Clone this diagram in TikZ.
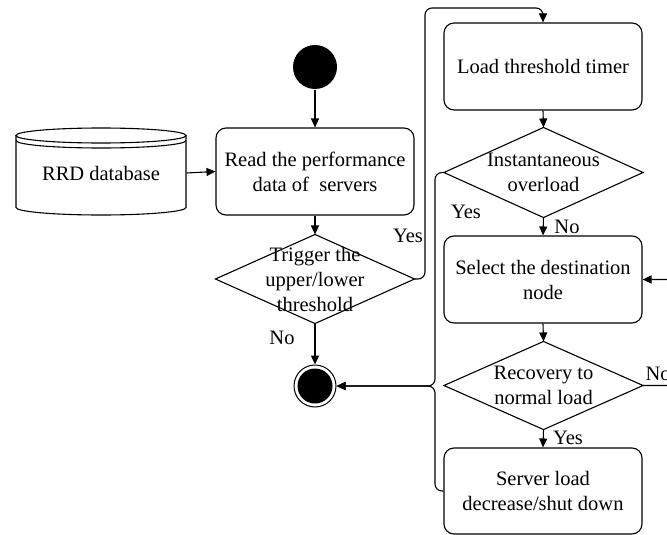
\documentclass[tikz,border=0pt]{standalone}
\usepackage{fontspec}
\setmainfont{Liberation Serif}
\usetikzlibrary{arrows.meta}
\newcommand\figfont{\fontsize{20.5}{25}\selectfont}
\begin{document}
\begin{tikzpicture}[x=1pt,y=-1pt, line width=1.1pt,
  box/.style={draw, rounded corners=10pt, minimum width=198pt, minimum height=87pt, inner sep=0pt, align=center, font=\figfont},
  dia/.style={minimum width=198pt, minimum height=88pt, inner sep=0pt, align=center, font=\figfont},
  arr/.style={-{Triangle[length=9pt,width=8pt]}},
  lbl/.style={font=\figfont, inner sep=0pt},
  conn/.style={rounded corners=7pt}
]
\useasboundingbox (0,0) rectangle (667,535);

% start / stop
\node[circle, fill, minimum size=44pt, inner sep=0pt] (start) at (315,67) {};
\node[circle, draw, minimum size=42pt, inner sep=0pt, line width=1pt] (stop) at (315,386) {};
\node[circle, fill, minimum size=35pt, inner sep=0pt] (stopin) at (315,386) {};

% database
\node[minimum width=170pt, minimum height=87pt, inner sep=0pt, font=\figfont] (rrd) at (101,173) {RRD database};
\draw (101,135.5) ellipse [x radius=85pt, y radius=7.5pt];
\draw (16,140.5) arc[start angle=180, end angle=360, x radius=85pt, y radius=7.5pt];
\draw (16,135.5) -- (16,207.5) arc[start angle=180, end angle=360, x radius=85pt, y radius=7.5pt] -- (186,135.5);

% boxes
\node[box] (read) at (315,171.5) {Read the performance\\data of~ servers};
\node[box] (load) at (543,66.5) {Load threshold timer};
\node[box] (select) at (543,279.5) {Select the destination\\node};
\node[box, minimum height=86pt] (server) at (543,491) {Server load\\decrease/shut down};

% decisions
\node[dia] (trig) at (315,279) {Trigger the\\upper/lower\\threshold};
\draw (trig.north) -- (trig.east) -- (trig.south) -- (trig.west) -- cycle;
\node[dia, minimum height=89pt] (inst) at (543.5,172.5) {Instantaneous\\overload};
\draw (inst.north) -- (inst.east) -- (inst.south) -- (inst.west) -- cycle;
\node[dia, minimum height=87pt] (recov) at (543.5,385.5) {Recovery to\\normal load};
\draw (recov.north) -- (recov.east) -- (recov.south) -- (recov.west) -- cycle;

% labels
\node[lbl] (yes1) at (408,236) {Yes};
\node[lbl] (no1) at (282,338) {No};
\node[lbl] (yes2) at (466,212) {Yes};
\node[lbl] (no2) at (567,227) {No};
\node[lbl, anchor=west] (no3) at (645,374) {No};
\node[lbl] (yes3) at (568,438) {Yes};

% helper coordinates
\coordinate (ty) at (425,8);
\coordinate (jn) at (435,386);
\coordinate (rn) at (690,279.5);

% connectors
\draw[arr] (start) -- (read.north);
\draw[arr] (rrd.east) -- (read.west);
\draw[arr] (read.south) -- (trig.north);
\draw[arr] (trig.south) -- (stop.north);
\draw[arr, conn] (trig.east) -| (ty) -| (load.north);
\draw[arr] (load.south) -- (inst.north);
\draw[arr] (inst.south) -- (select.north);
\draw[arr] (select.south) -- (recov.north);
\draw[arr] (recov.south) -- (server.north);
\draw[arr, conn] (inst.west) -| (jn) -- (stop.east);
\draw[arr, conn] (server.west) -| (jn) -- (stop.east);
\draw[arr, conn] (recov.east) -| (rn) -- (select.east);
\end{tikzpicture}
\end{document}
